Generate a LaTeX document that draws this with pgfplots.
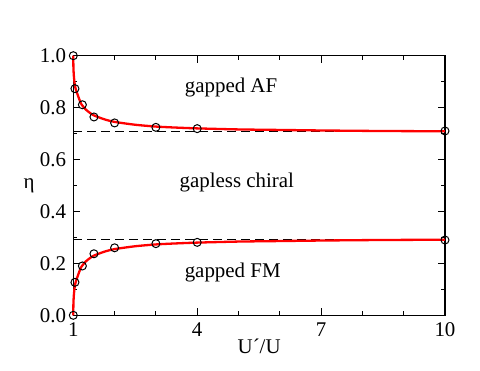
\documentclass[border=0pt]{standalone}
\usepackage{fontspec}
\setmainfont{Liberation Serif}
\usepackage{pgfplots}
\pgfplotsset{compat=1.18}
\definecolor{fitred}{RGB}{255,0,0}

\pgfplotstableread{
x     up      lo
1     1.000   0.000
1.002 0.960   0.040
1.01  0.930   0.070
1.03  0.895   0.105
1.06  0.870   0.130
1.1   0.852   0.148
1.15  0.830   0.170
1.2   0.812   0.188
1.3   0.793   0.207
1.4   0.780   0.220
1.5   0.770   0.230
1.75  0.755   0.245
2     0.745   0.255
2.5   0.734   0.266
3     0.727   0.273
3.5   0.723   0.277
4     0.720   0.280
5     0.716   0.284
6     0.714   0.286
7     0.712   0.288
8     0.7105  0.2895
9     0.7095  0.2905
10    0.709   0.291
}\fitdata

\pgfplotstableread{
x     up     lo
1     1.000  0.000
1.04  0.873  0.127
1.22  0.811  0.190
1.5   0.764  0.237
2     0.741  0.260
3     0.724  0.276
4     0.719  0.281
10    0.710  0.290
}\simdata

\begin{document}
\fontsize{21}{25}\selectfont
\begin{tikzpicture}
\path[use as bounding box] (0,0) rectangle (480bp,371bp);
\begin{axis}[
  scale only axis,
  width=371.7bp, height=259.6bp,
  at={(73.3bp,55.7bp)}, anchor=south west,
  xmin=1, xmax=10, ymin=0, ymax=1,
  xtick={1,4,7,10}, minor xtick={2,3,5,6,8,9},
  ytick={0,0.2,...,1.0}, minor ytick={0.1,0.3,0.5,0.7,0.9},
  yticklabel style={/pgf/number format/fixed,/pgf/number format/fixed zerofill,/pgf/number format/precision=1},
  /pgf/number format/assume math mode=true,
  tick align=inside,
  major tick length=7bp, minor tick length=4bp,
  axis line style={line width=1.1bp},
  every tick/.style={black,line width=1.1bp},
  tick label style={font=\fontsize{21}{25}\selectfont},
  label style={font=\fontsize{21}{25}\selectfont},
  xlabel={U´/U}, ylabel={η},
  xlabel style={at={(axis description cs:0.5,-0.12)},anchor=center},
  ylabel style={rotate=-90,at={(axis description cs:-0.119,0.5)},anchor=center},
  clip=false,
]
\addplot[black,dash pattern=on 9bp off 5bp,line width=1.1bp] coordinates {(1,0.7071) (10,0.7071)};
\addplot[black,dash pattern=on 9bp off 5bp,line width=1.1bp] coordinates {(1,0.2929) (10,0.2929)};
\addplot[fitred,line width=2.3bp,smooth,tension=0.4] table[x=x,y=up] {\fitdata};
\addplot[fitred,line width=2.3bp,smooth,tension=0.4] table[x=x,y=lo] {\fitdata};
\addplot[only marks,mark=o,mark size=4bp,mark options={black,line width=1bp}] table[x=x,y=up] {\simdata};
\addplot[only marks,mark=o,mark size=4bp,mark options={black,line width=1bp}] table[x=x,y=lo] {\simdata};
\node at (axis cs:4.82,0.879) {gapped AF};
\node at (axis cs:4.96,0.51) {gapless chiral};
\node at (axis cs:4.86,0.163) {gapped FM};
\end{axis}
\end{tikzpicture}
\end{document}
